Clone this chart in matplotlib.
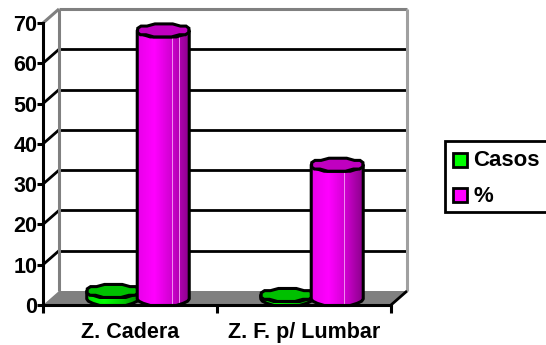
import numpy as np
import matplotlib
matplotlib.use("Agg")
import matplotlib.pyplot as plt
from matplotlib.colors import LinearSegmentedColormap
from matplotlib.patches import Polygon, Rectangle

categories = ["Z. Cadera", "Z. F. p/ Lumbar"]
casos = [2, 1]
porcentaje = [66.67, 33.33]
y_ticks = [0, 10, 20, 30, 40, 50, 60, 70]
series_names = ["Casos", "%"]

plt.rcParams["font.family"] = ["Liberation Sans", "DejaVu Sans"]
W, H = 546, 345
fig = plt.figure(figsize=(W / 100, H / 100), dpi=100)
ax = fig.add_axes([43 / W, (H - 305) / H, 348 / W, 282 / H])
ax.set_xlim(0, 2)
ax.set_ylim(0, 70)

# depth of the fake 3d box, in data units
dx = 16 / 174
dy = 14 / (282 / 70)
px_x = 1 / 174
px_y = 70 / 282


def line(xs, ys, color="black", lw=2.0, z=2):
    ax.plot(xs, ys, color=color, lw=lw, clip_on=False, zorder=z, solid_capstyle="butt")


# walls and grid
for t in y_ticks[1:-1]:
    line([dx, 2 + dx], [t + dy, t + dy])
    line([0, dx], [t, t + dy])
line([dx, dx], [0 + dy, 70 + dy], "#808080", 2.2)
line([dx, 2 + dx], [70 + dy, 70 + dy], "#808080", 2.2)
line([2 + dx, 2 + dx], [0 + dy, 70 + dy], "#a0a0a0", 2.2)
line([0, dx], [70, 70 + dy], "#808080", 2.2)
ax.add_patch(Polygon([[0, 0], [2, 0], [2 + dx, dy], [dx, dy]], fc="#808080", ec="none",
                     clip_on=False, zorder=3))
line([2, 2 + dx], [0, dy], "black", 2, 3)

magenta = LinearSegmentedColormap.from_list("m", ["#e800e8", "#ff00ff", "#d000d0", "#8c008c"])
green = LinearSegmentedColormap.from_list("g", ["#00e000", "#00ff00", "#00d000", "#008c00"])


def ellipse(cx, cy, a, b, lower=False):
    # the source has coarse, stepped ellipses
    ang = np.linspace(0, 2 * np.pi, 19)[:-1] + 0.15
    if lower:
        ang = np.linspace(np.pi, 2 * np.pi, 10)
    sn = np.sin(ang)
    s = np.sign(sn) * np.abs(sn) ** 0.75
    s = np.round(s * 3) / 3
    return np.column_stack([cx + a * np.cos(ang), cy + b * s])


def cylinder(x, val, cmap, top_color, highlights, z):
    cx = x + dx / 2
    base = dy / 2 - px_y
    a = 26 * px_x
    b = 6.5 * px_y
    low = ellipse(cx, base, a, b, lower=True)
    pts = np.vstack([[[cx - a, base + val]], low, [[cx + a, base + val]],
                     ellipse(cx, base + val, a, b, lower=True)[::-1]])
    body = Polygon(pts, fc="none", ec="black", lw=2.2, clip_on=False, zorder=z + 0.2, joinstyle="round")
    ax.add_patch(body)
    im = ax.imshow(np.linspace(0, 1, 64).reshape(1, -1), cmap=cmap, aspect="auto", zorder=z,
                   extent=[cx - a, cx + a, base - b, base + val + b])
    im.set_clip_path(body)
    for h in highlights:
        xh = cx + h * a
        ax.plot([xh, xh], [base - b * 0.9, base + val - b * 0.7], color="#f090f0", lw=0.7, zorder=z + 0.1)
    ax.add_patch(Polygon(ellipse(cx, base + val, a, b), fc=top_color, ec="black", lw=2.2,
                         clip_on=False, zorder=z + 0.3))


for i in range(len(categories)):
    x0 = i + 0.5
    cylinder(x0 - 0.145, casos[i], green, "#00c000", [], 4 + i)
    cylinder(x0 + 0.145, porcentaje[i], magenta, "#c000c0", [0.32, 0.62] if i == 0 else [0.25], 4.5 + i)

ax.set_xlim(0, 2)
ax.set_ylim(0, 70)

for s in ["top", "right"]:
    ax.spines[s].set_visible(False)
for s in ["left", "bottom"]:
    ax.spines[s].set_linewidth(2.2)
    ax.spines[s].set_zorder(10)
ax.patch.set_alpha(0)
ax.set_yticks(y_ticks)
ax.set_yticklabels(y_ticks, fontsize=15.5, fontweight="bold")
ax.set_xticks([0, 1, 2])
ax.set_xticklabels([])
ax.set_xticks([0.5, 1.5], categories, minor=True, fontsize=15.5, fontweight="bold")
ax.tick_params(axis="y", length=4, width=2.2, pad=0)
ax.tick_params(axis="x", which="major", length=6, width=2.2)
ax.tick_params(axis="x", which="minor", length=0, pad=12)

# legend, its right edge runs off the image
fig.add_artist(Rectangle((445 / W, (H - 212) / H), 110 / W, 71 / H, transform=fig.transFigure,
                         fc="white", ec="black", lw=2))
legend_colors = ["#00ff00", "#ff00ff"]
for name, col, yc in zip(series_names, legend_colors, [160, 195]):
    fig.add_artist(Rectangle((453 / W, (H - yc - 7) / H), 14 / W, 14 / H, transform=fig.transFigure,
                             fc=col, ec="black", lw=2))
    fig.text(473 / W, (H - yc - 1) / H, name, fontsize=16, fontweight="bold", va="center", ha="left")

fig.savefig("out.png", dpi=100)
